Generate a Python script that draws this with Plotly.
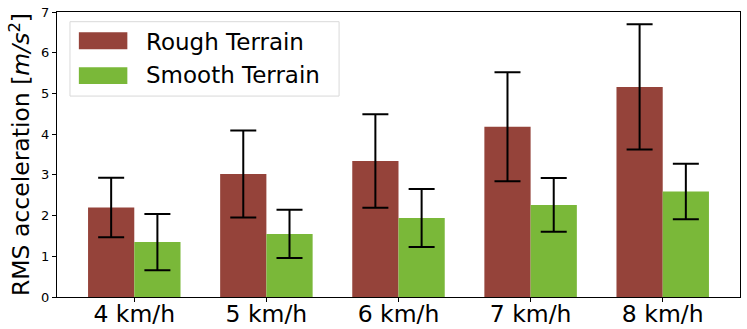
import plotly.graph_objects as go

speeds = ["4 km/h", "5 km/h", "6 km/h", "7 km/h", "8 km/h"]
rough_mean = [2.20, 3.02, 3.34, 4.18, 5.16]
rough_err = [0.73, 1.07, 1.15, 1.34, 1.54]
smooth_mean = [1.35, 1.55, 1.94, 2.26, 2.59]
smooth_err = [0.69, 0.59, 0.71, 0.66, 0.68]

ROUGH = "#95433a"
SMOOTH = "#7ab839"
FONT = "DejaVu Sans"

fig = go.Figure()
for name, vals, errs, color in [
    ("Rough Terrain", rough_mean, rough_err, ROUGH),
    ("Smooth Terrain", smooth_mean, smooth_err, SMOOTH),
]:
    fig.add_trace(
        go.Bar(
            x=speeds,
            y=vals,
            name=name,
            marker={"color": color, "line": {"width": 0}},
            error_y={"type": "data", "array": errs, "color": "black", "thickness": 2, "width": 13},
        )
    )

# matplotlib-like legend drawn with shapes
legend_shapes = [
    dict(type="rect", xref="paper", yref="paper", x0=0.019, x1=0.413, y0=0.705, y1=0.966,
         line={"color": "#d9d9d9", "width": 1}, fillcolor="rgba(255,255,255,0.8)", layer="above"),
    dict(type="rect", xref="paper", yref="paper", x0=0.032, x1=0.103, y0=0.869, y1=0.929,
         line={"width": 0}, fillcolor=ROUGH, layer="above"),
    dict(type="rect", xref="paper", yref="paper", x0=0.032, x1=0.103, y0=0.747, y1=0.806,
         line={"width": 0}, fillcolor=SMOOTH, layer="above"),
]
legend_text = [
    dict(xref="paper", yref="paper", x=0.128, y=0.895, text="Rough Terrain", showarrow=False,
         xanchor="left", yanchor="middle", font={"family": FONT, "size": 23, "color": "black"}),
    dict(xref="paper", yref="paper", x=0.128, y=0.778, text="Smooth Terrain", showarrow=False,
         xanchor="left", yanchor="middle", font={"family": FONT, "size": 23, "color": "black"}),
]

fig.update_layout(
    width=747,
    height=329,
    margin={"l": 57, "r": 7, "t": 12, "b": 32},
    paper_bgcolor="white",
    plot_bgcolor="white",
    barmode="group",
    bargap=0.3,
    bargroupgap=0,
    showlegend=False,
    font={"family": FONT, "color": "black"},
    shapes=legend_shapes,
    annotations=legend_text,
)
fig.update_xaxes(
    range=[-0.585, 4.585],
    showline=True, linecolor="black", linewidth=1, mirror=True,
    ticks="outside", ticklen=4, tickcolor="black",
    tickfont={"size": 23.5, "family": FONT},
    ticklabelstandoff=-8,
    showgrid=False, automargin=False,
)
fig.update_yaxes(
    range=[0, 7],
    dtick=1,
    showline=True, linecolor="black", linewidth=1, mirror=True,
    ticks="outside", ticklen=4, tickcolor="black",
    tickfont={"size": 13, "family": FONT},
    showgrid=False, zeroline=False, automargin=False,
    title={"text": "RMS acceleration [<i>m/s</i><sup>2</sup>]", "font": {"size": 23.5, "family": FONT}, "standoff": 4},
)

fig.write_html(
    "out.html",
    config={"displayModeBar": False},
    post_script="document.body.style.margin='0';",
)
